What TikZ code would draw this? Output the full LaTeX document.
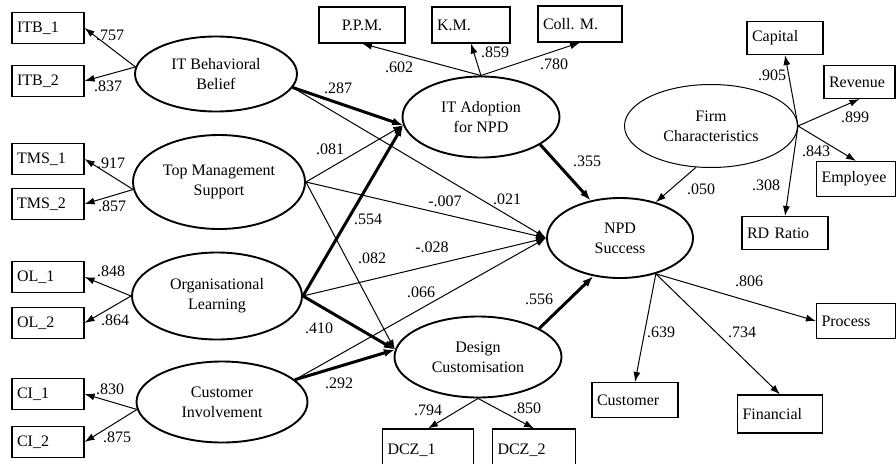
\documentclass[tikz,border=0pt]{standalone}
\usepackage{fontspec}
\setmainfont{Liberation Serif}
\usetikzlibrary{shapes,arrows.meta,positioning}

\begin{document}
\begin{tikzpicture}[x=1pt, y=-1pt,
    font=\fontsize{16}{20}\selectfont,
    latent/.style={ellipse, draw, line width=1.9pt, inner sep=0pt, align=center},
    item/.style={rectangle, draw, line width=1.1pt, inner xsep=5pt, inner ysep=0pt, align=left},
    coef/.style={inner sep=0pt, font=\fontsize{16}{16}\selectfont},
    load/.style={-{Latex[length=10pt,width=7pt]}, line width=1pt},
    effect/.style={-{Latex[length=10pt,width=7pt]}, line width=1pt},
    strong/.style={-{Latex[length=11pt,width=8pt]}, line width=3pt}]
    \useasboundingbox (0,0) rectangle (896,463);

    % Latent constructs
    \node[latent, minimum width=162pt, minimum height=75pt] (itb) at (216,74) {IT Behavioral\\Belief};
    \node[latent, minimum width=172pt, minimum height=94pt] (tms) at (219,182) {Top Management\\Support};
    \node[latent, minimum width=170pt, minimum height=87pt] (ol) at (217,296) {Organisational\\Learning};
    \node[latent, minimum width=171pt, minimum height=81pt] (ci) at (222,402) {Customer\\Involvement};
    \node[latent, minimum width=157pt, minimum height=81pt] (ita) at (481,117) {IT Adoption\\for NPD};
    \node[latent, minimum width=167pt, minimum height=81pt] (dc) at (478,357) {Design\\Customisation};
    \node[latent, minimum width=146pt, minimum height=80pt] (npd) at (620,238) {NPD\\Success};
    \node[latent, line width=1pt, minimum width=173pt, minimum height=83pt] (fc) at (711,126) {Firm\\Characteristics};

    % Indicators on the left
    \foreach \n/\t/\y in {itb1/ITB\_1/28, itb2/ITB\_2/81, tms1/TMS\_1/159, tms2/TMS\_2/204,
                          ol1/OL\_1/277, ol2/OL\_2/323, ci1/CI\_1/394, ci2/CI\_2/442} {
        \node[item, text width=62pt, minimum height=31pt] (\n) at (48,\y) {\t};
    }

    % Other indicators
    \node[item, text width=76pt, align=center, minimum height=36pt] (ppm) at (362,25) {P.P.M.};
    \node[item, text width=68pt, minimum height=36pt] (km) at (471,25) {K.M.};
    \node[item, text width=74pt, minimum height=36pt] (coll) at (580,24) {Coll.\ M.};
    \node[item, text width=66pt, minimum height=33pt] (capital) at (785,38) {Capital};
    \node[item, text width=61pt, minimum height=33pt] (revenue) at (859.5,82) {Revenue};
    \node[item, text width=69pt, minimum height=35pt] (employee) at (856,179) {Employee};
    \node[item, text width=76pt, minimum height=33pt] (rdratio) at (785,233) {RD Ratio};
    \node[item, text width=69pt, minimum height=35pt] (process) at (856,321) {Process};
    \node[item, text width=76pt, minimum height=35pt] (customer) at (635,400) {Customer};
    \node[item, text width=75pt, minimum height=38pt] (financial) at (780,414) {Financial};
    \node[item, text width=81pt, minimum height=42pt] (dcz1) at (428,450) {DCZ\_1};
    \node[item, text width=73pt, minimum height=42pt] (dcz2) at (534,450) {DCZ\_2};

    % Measurement loadings
    \draw[load] (itb.175) -- (itb1.east);
    \draw[load] (itb.175) -- (itb2.east);
    \draw[load] (tms.185) -- (tms1.east);
    \draw[load] (tms.185) -- (tms2.east);
    \draw[load] (ol.west) -- (ol1.east);
    \draw[load] (ol.west) -- (ol2.east);
    \draw[load] (ci.185) -- (ci1.east);
    \draw[load] (ci.185) -- (ci2.east);
    \draw[load] (ita.north) -- (ppm.south);
    \draw[load] (ita.north) -- (km.south);
    \draw[load] (ita.north) -- (coll.south);
    \draw[load] (dc.south) -- (dcz1.north);
    \draw[load] (dc.south) -- (dcz2.north);
    \draw[load] (fc.east) -- (capital.south);
    \draw[load] (fc.east) -- (revenue.south);
    \draw[load] (fc.east) -- (employee.north);
    \draw[load] (fc.east) -- (rdratio.north);
    \draw[load] (npd.-45) -- (process.west);
    \draw[load] (npd.-45) -- (customer.north);
    \draw[load] (npd.-45) -- (financial.north);

    % Structural paths
    \draw[strong] (itb.-10) -- (ita.186);
    \draw[effect] (itb.-10) -- (npd.west);
    \draw[effect] (tms.east) -- (ita.186);
    \draw[effect] (tms.east) -- (npd.west);
    \draw[effect] (tms.east) -- (dc.175);
    \draw[strong] (ol.east) -- (ita.186);
    \draw[effect] (ol.east) -- (npd.west);
    \draw[strong] (ol.east) -- (dc.175);
    \draw[effect] (ci.17) -- (npd.west);
    \draw[strong] (ci.17) -- (dc.175);
    \draw[strong] (ita.-25) -- (npd.128);
    \draw[strong] (dc.25) -- (npd.235);
    \draw[effect] (fc.-110) -- (npd.45);

    % Coefficients
    \node[coef] (c1) at (110,35) {.757};
    \node[coef] (c2) at (108,86) {.837};
    \node[coef] (c3) at (111,163) {.917};
    \node[coef] (c4) at (112,206) {.857};
    \node[coef] (c5) at (111,271) {.848};
    \node[coef] (c6) at (115,320) {.864};
    \node[coef] (c7) at (110,389) {.830};
    \node[coef] (c8) at (117,437) {.875};
    \node[coef] (c9) at (338,88) {.287};
    \node[coef] (c10) at (330,149) {.081};
    \node[coef] (c11) at (445,201) {-.007};
    \node[coef] (c12) at (507,199) {.021};
    \node[coef] (c13) at (368,219) {.554};
    \node[coef] (c14) at (372,258) {.082};
    \node[coef] (c15) at (432,247) {-.028};
    \node[coef] (c16) at (421,292) {.066};
    \node[coef] (c17) at (319,328) {.410};
    \node[coef] (c18) at (339,383) {.292};
    \node[coef] (c19) at (539,299) {.556};
    \node[coef] (c20) at (587,161) {.355};
    \node[coef] (c21) at (399,67) {.602};
    \node[coef] (c22) at (495,52) {.859};
    \node[coef] (c23) at (554,64) {.780};
    \node[coef] (c24) at (701,189) {.050};
    \node[coef] (c25) at (772,75) {.905};
    \node[coef] (c26) at (855,117) {.899};
    \node[coef] (c27) at (816,151) {.843};
    \node[coef] (c28) at (766,185) {.308};
    \node[coef] (c29) at (749,281) {.806};
    \node[coef] (c30) at (661,332) {.639};
    \node[coef] (c31) at (742,332) {.734};
    \node[coef] (c32) at (428,410) {.794};
    \node[coef] (c33) at (527,408) {.850};
\end{tikzpicture}
\end{document}
